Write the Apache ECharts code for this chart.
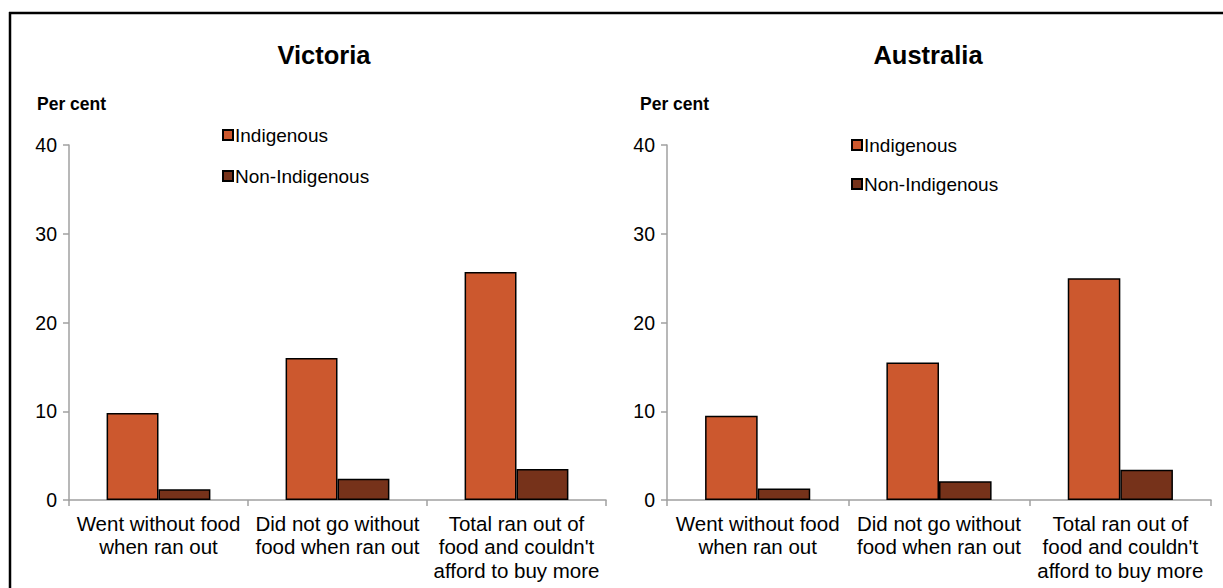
<!DOCTYPE html>
<html>
<head>
<meta charset="utf-8">
<script src="https://cdn.jsdelivr.net/npm/echarts@6/dist/echarts.min.js"></script>
<style>
html,body{margin:0;padding:0;background:#fff;}
#chart{width:1223px;height:588px;}
</style>
</head>
<body>
<div id="chart"></div>
<script>
const categories = [
  "Went without food\nwhen ran out",
  "Did not go without\nfood when ran out",
  "Total ran out of\nfood and couldn't\nafford to buy more"
];
const panelTitles = ["Victoria", "Australia"];
const seriesNames = ["Indigenous", "Non-Indigenous"];
const vicIndigenous = [9.8, 16.0, 25.7];
const vicNonIndigenous = [1.2, 2.4, 3.5];
const ausIndigenous = [9.5, 15.5, 25.0];
const ausNonIndigenous = [1.3, 2.1, 3.4];
const yTicks = [0, 10, 20, 30, 40];
const yAxisTitle = "Per cent";

const FONT = "'Liberation Sans', Arial, sans-serif";
const colors = ["#CC582E", "#76321A"];
const axisGray = "#A0A0A0";

const grids = [
  {left: 69, right: 617, top: 145, bottom: 88},
  {left: 667, right: 12, top: 145, bottom: 88}
];

function xAxis(i) {
  return {
    type: 'category', gridIndex: i, data: categories,
    axisLine: {lineStyle: {color: axisGray, width: 1.5}},
    axisTick: {show: true, alignWithLabel: false, length: 6, lineStyle: {color: axisGray, width: 1.5}},
    axisLabel: {interval: 0, color: '#000', fontFamily: FONT, fontSize: 20.5, lineHeight: 23.3, margin: 12}
  };
}
function yAxis(i) {
  return {
    type: 'value', gridIndex: i, min: yTicks[0], max: yTicks[yTicks.length - 1], interval: 10,
    axisLine: {show: true, lineStyle: {color: axisGray, width: 1.5}},
    axisTick: {show: true, length: 6, lineStyle: {color: axisGray, width: 1.5}},
    splitLine: {show: false},
    axisLabel: {color: '#000', fontFamily: FONT, fontSize: 19.5, margin: 12}
  };
}
function bar(name, data, idx, colorIdx) {
  return {
    type: 'bar', name: name, data: data, xAxisIndex: idx, yAxisIndex: idx,
    barGap: '0%', barCategoryGap: '42%',
    itemStyle: {color: colors[colorIdx], borderColor: '#000', borderWidth: 1.5},
    emphasis: {disabled: true}, animation: false
  };
}
function legend(left, top, gap) {
  return {
    left: left, top: top, orient: 'vertical', itemGap: gap, padding: 0,
    icon: 'rect', itemWidth: 10, itemHeight: 10,
    data: seriesNames,
    textStyle: {color: '#000', fontFamily: FONT, fontSize: 19, lineHeight: 20, padding: [0,0,0,-3]},
    selectedMode: false
  };
}

const option = {
  backgroundColor: '#fff',
  animation: false,
  title: [
    {text: panelTitles[0], left: 319, top: 37, textAlign: 'center',
     textStyle: {fontFamily: FONT, fontSize: 25.5, fontWeight: 'bold', color: '#000'}},
    {text: panelTitles[1], left: 923, top: 37, textAlign: 'center',
     textStyle: {fontFamily: FONT, fontSize: 25.5, fontWeight: 'bold', color: '#000'}}
  ],
  legend: [legend(222, 125, 21), legend(851, 135, 19)],
  grid: grids,
  xAxis: [xAxis(0), xAxis(1)],
  yAxis: [yAxis(0), yAxis(1)],
  series: [
    bar(seriesNames[0], vicIndigenous, 0, 0),
    bar(seriesNames[1], vicNonIndigenous, 0, 1),
    bar(seriesNames[0], ausIndigenous, 1, 0),
    bar(seriesNames[1], ausNonIndigenous, 1, 1)
  ],
  graphic: [
    {type: 'text', left: 37, top: 95, style: {text: yAxisTitle, fontFamily: FONT, fontSize: 17.5, fontWeight: 'bold', fill: '#000'}},
    {type: 'text', left: 640, top: 95, style: {text: yAxisTitle, fontFamily: FONT, fontSize: 17.5, fontWeight: 'bold', fill: '#000'}},
    {type: 'line', shape: {x1: 10, y1: 12, x2: 10, y2: 588}, style: {stroke: '#000', lineWidth: 2.5}},
    {type: 'line', shape: {x1: 9, y1: 13, x2: 1223, y2: 13}, style: {stroke: '#000', lineWidth: 2.5}}
  ]
};

const chart = echarts.init(document.getElementById('chart'), null, {renderer: 'svg'});
chart.setOption(option);
</script>
</body>
</html>
